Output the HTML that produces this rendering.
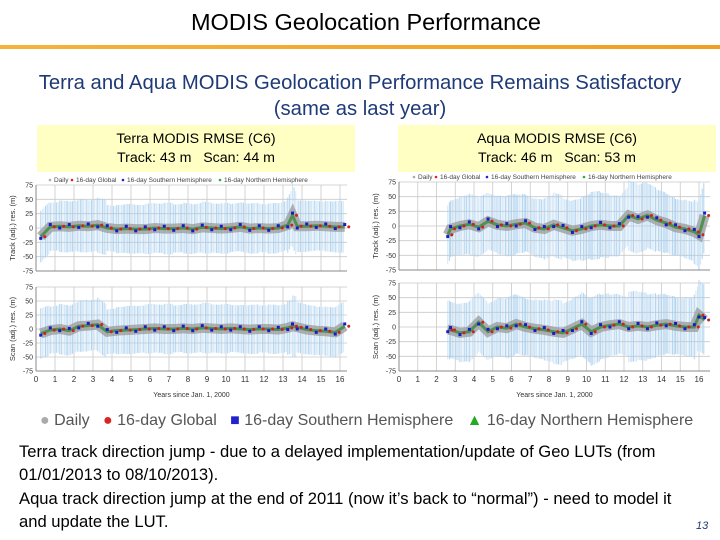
<!DOCTYPE html>
<html><head><meta charset="utf-8">
<style>
body{margin:0;width:720px;height:540px;background:#fff;overflow:hidden;font-family:"Liberation Sans",sans-serif;position:relative}
.t{position:absolute;white-space:nowrap}
</style></head><body>
<div class="t" style="left:0;width:732px;top:9px;text-align:center;font-size:23.5px;color:#000">MODIS Geolocation Performance</div>
<div style="position:absolute;left:0;top:45px;width:720px;height:4px;background:linear-gradient(90deg,#f5b33a,#f0a020)"></div>
<div class="t" style="left:0;width:720px;top:70px;text-align:center;font-size:20.3px;line-height:26px;color:#1f3a78">Terra and Aqua MODIS Geolocation Performance Remains Satisfactory<br>(same as last year)</div>
<div class="t" style="left:37px;top:125px;width:318px;height:47px;background:#ffffc4;text-align:center;font-size:14.2px;line-height:19px;padding-top:5px;box-sizing:border-box">Terra MODIS RMSE (C6)<br>Track: 43 m &nbsp;&nbsp;Scan: 44 m</div>
<div class="t" style="left:398px;top:125px;width:318px;height:47px;background:#ffffc4;text-align:center;font-size:14.2px;line-height:19px;padding-top:5px;box-sizing:border-box">Aqua MODIS RMSE (C6)<br>Track: 46 m &nbsp;&nbsp;Scan: 53 m</div>
<svg id="ch" width="720" height="400" style="position:absolute;left:0;top:0"></svg>
<div class="t" style="left:40px;top:412px;font-size:16px;color:#555">
<span style="color:#aaa">●</span> Daily &nbsp;&nbsp;<span style="color:#d22">●</span> 16-day Global &nbsp;&nbsp;<span style="color:#22c">■</span> 16-day Southern Hemisphere &nbsp;&nbsp;<span style="color:#2a2">▲</span> 16-day Northern Hemisphere</div>
<div class="t" style="left:19px;top:440px;font-size:16.6px;line-height:23.3px;color:#000">Terra track direction jump - due to a delayed implementation/update of Geo LUTs (from<br>01/01/2013 to 08/10/2013).<br>Aqua track direction jump at the end of 2011 (now it’s back to “normal”) - need to model it<br>and update the LUT.</div>
<div class="t" style="left:696px;top:520px;font-size:11px;font-style:italic;color:#1f3a78">13</div>
<script>
const terraYears=[0.25,0.75,1.25,1.75,2.25,2.75,3.25,3.75,4.25,4.75,5.25,5.75,6.25,6.75,7.25,7.75,8.25,8.75,9.25,9.75,10.25,10.75,11.25,11.75,12.25,12.75,13.25,13.5,13.75,14.25,14.75,15.25,15.75,16.25];
const terraTrack=[-15,2,3,2,4,3,5,0,-2,-1,-2,-2,0,-1,-1,0,-2,1,0,-1,0,2,-1,0,-1,0,5,22,3,3,4,3,2,2];
const terraScan=[-8,-2,0,-3,5,6,8,-5,-3,-2,-1,0,1,0,0,1,0,2,1,0,1,0,-1,0,0,-1,2,5,3,-1,-3,-4,-6,5];
const terraBand=[45,42,45,44,46,45,48,40,42,43,42,44,43,45,42,44,43,45,43,44,42,43,44,42,44,43,48,55,45,44,43,44,45,48];
const aquaYears=[2.6,2.75,3.25,3.75,4.25,4.75,5.25,5.75,6.25,6.75,7.25,7.75,8.25,8.75,9.25,9.75,10.25,10.75,11.25,11.75,12.25,12.75,13.25,13.75,14.25,14.75,15.25,15.75,16.0,16.3];
const aquaTrack=[-15,-5,0,3,-2,8,2,0,3,5,-3,-5,2,-3,-8,-5,0,2,0,0,18,12,18,10,5,-2,-5,-10,-15,18];
const aquaScan=[-5,-5,-10,-8,8,-8,0,-2,5,0,-3,-5,-8,-10,-3,5,-8,0,3,5,0,2,0,3,5,2,0,0,20,12];
const aquaBand=[50,48,50,52,50,48,50,52,50,48,50,52,55,50,52,55,58,55,52,50,60,58,55,52,50,48,50,55,60,60];
const yTicks=[75,50,25,0,-25,-50,-75];
const xTicks=[0,1,2,3,4,5,6,7,8,9,10,11,12,13,14,15,16];
const S="http://www.w3.org/2000/svg",svg=document.getElementById('ch');
function mk(tag,at,txt){const e=document.createElementNS(S,tag);for(const k in at)e.setAttribute(k,at[k]);if(txt!=null)e.textContent=txt;svg.appendChild(e);return e;}
function panel(x0,x16,right,top,bot,yrs,vals,band,label,name,showX){
 const X=v=>x0+(x16-x0)*v/16, Y=v=>top+(75-v)/150*(bot-top);
 let g;
 for(const t of xTicks){g=mk('line',{x1:X(t),x2:X(t),y1:top,y2:bot,stroke:'#c8c8c8','stroke-width':0.8});}
 for(const t of yTicks){g=mk('line',{x1:x0,x2:right,y1:Y(t),y2:Y(t),stroke:'#c8c8c8','stroke-width':0.8});
  g=mk('text',{x:x0-3,y:Y(t)+2.5,'font-size':7,'text-anchor':'end',fill:'#333'},t);}
 for(let i=0;i<yrs.length-1;i++){
  const xa=X(yrs[i]),xb=X(yrs[i+1]);
  for(let x=xa;x<xb;x+=1.6){const f=(x-xa)/(xb-xa);const m=vals[i]*(1-f)+vals[i+1]*f;
   g=mk('line',{x1:x,x2:x,y1:Y(m+band[i]),y2:Y(m-band[i]),stroke:'#a9cfee','stroke-width':1,opacity:((x*7)%3<1.5)?0.9:0.5});}
 }
 const pts=yrs.map((t,i)=>X(t)+','+Y(vals[i])).join(' ');
 g=mk('polyline',{points:pts,fill:'none',stroke:'#9a9a9a','stroke-width':10,opacity:0.75});
 g=mk('polyline',{points:pts,fill:'none',stroke:'#3a8a3a','stroke-width':3,opacity:0.8});
 for(let i=0;i<yrs.length;i++){
  g=mk('rect',{x:X(yrs[i])-1.5,y:Y(vals[i]+((i%2)?4:-3))-1.5,width:3,height:3,fill:'#1a1acc'});
  g=mk('circle',{cx:X(yrs[i])+4,cy:Y(vals[i]),r:1.5,fill:'#cc2222'});
 }
 g=mk('line',{x1:x0,x2:x0,y1:top,y2:bot,stroke:'#888'});
 g=mk('line',{x1:x0,x2:right,y1:bot,y2:bot,stroke:'#888'});
 const cy=(top+bot)/2;
 g=mk('text',{x:x0-21,y:cy,'font-size':7.5,fill:'#333','text-anchor':'middle',transform:`rotate(-90 ${x0-21} ${cy})`},label);
 if(showX){for(const t of xTicks){g=mk('text',{x:X(t),y:bot+11,'font-size':8,'text-anchor':'middle',fill:'#333'},t);}
  g=mk('text',{x:(x0+right)/2,y:bot+26,'font-size':7,'text-anchor':'middle',fill:'#333'},'Years since Jan. 1, 2000');}
}
function legend(x,y){
 const items=[['#aaa','Daily',0],['#d22','16-day Global',22],['#22c','16-day Southern Hemisphere',73],['#3a3','16-day Northern Hemisphere',170]];
 for(const it of items){let g=mk('circle',{cx:x+it[2],cy:y-2,r:1.3,fill:it[0]});
  g=mk('text',{x:x+it[2]+4,y:y,'font-size':6.5,fill:'#444'},it[1]);}
}
panel(36,340,347,185,271,terraYears,terraTrack,terraBand,'Track (adj.) res. (m)','terra-track',false);
panel(36,340,347,287,371,terraYears,terraScan,terraBand,'Scan (adj.) res. (m)','terra-scan',true);
panel(399,699,710,182,270,aquaYears,aquaTrack,aquaBand,'Track (adj.) res. (m)','aqua-track',false);
panel(399,699,710,283,371,aquaYears,aquaScan,aquaBand,'Scan (adj.) res. (m)','aqua-scan',true);
legend(50,182);legend(414,179);
</script>
</body></html>
